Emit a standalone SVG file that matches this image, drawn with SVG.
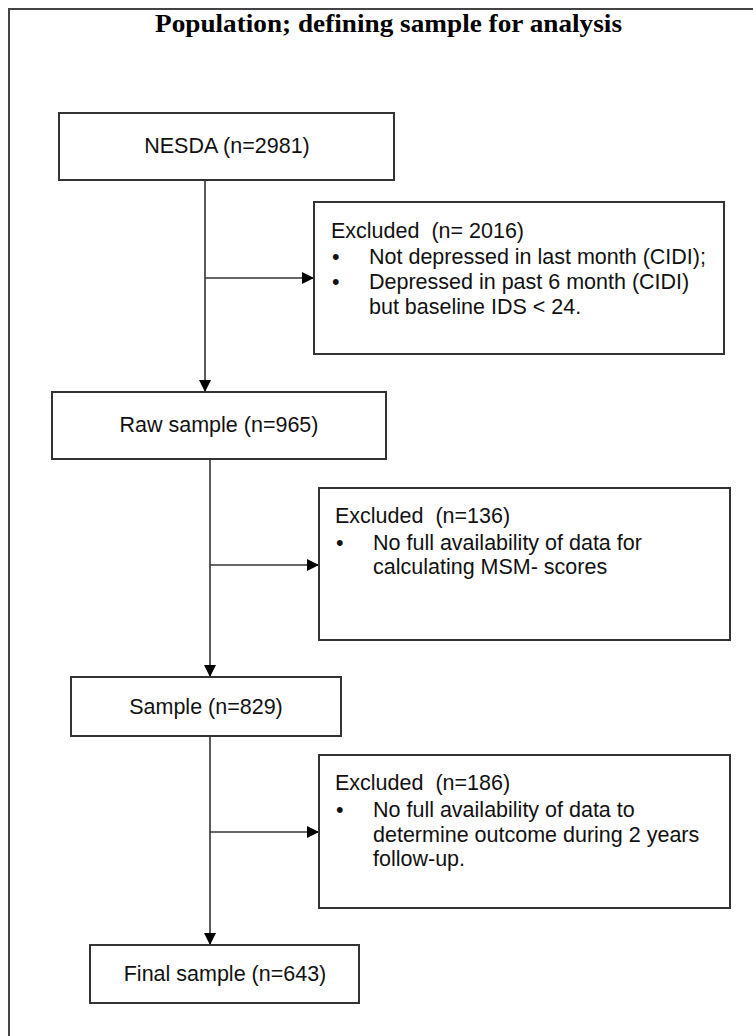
<svg xmlns="http://www.w3.org/2000/svg" width="753" height="1036" viewBox="0 0 753 1036">
<style>
.box{fill:#fff;stroke:#333;stroke-width:2}
.t{font-family:"Liberation Sans",Arial,sans-serif;font-size:21.5px;fill:#111}
.c{text-anchor:middle}
.ln{stroke:#333;stroke-width:1.6;fill:none}
.title{font-family:"Liberation Serif","Times New Roman",serif;font-weight:bold;font-size:26px;fill:#000;text-anchor:middle}
</style>
<defs>
<marker id="arr" viewBox="0 0 10 10" refX="10" refY="5" markerWidth="12" markerHeight="12" markerUnits="userSpaceOnUse" orient="auto">
<path d="M0,0 L10,5 L0,10 Z" fill="#000"/>
</marker>
</defs>
<rect x="9" y="9" width="780" height="1060" fill="#fff" stroke="#444" stroke-width="2"/>
<text class="title" x="388.5" y="32" textLength="467" lengthAdjust="spacingAndGlyphs">Population; defining sample for analysis</text>

<g id="connectors">
<line class="ln" x1="205" y1="180" x2="205" y2="392" marker-end="url(#arr)"/>
<line class="ln" x1="205" y1="278" x2="314" y2="278" marker-end="url(#arr)"/>
<line class="ln" x1="210" y1="450" x2="210" y2="677" marker-end="url(#arr)"/>
<line class="ln" x1="210" y1="565" x2="319" y2="565" marker-end="url(#arr)"/>
<line class="ln" x1="210" y1="736" x2="210" y2="945" marker-end="url(#arr)"/>
<line class="ln" x1="210" y1="832" x2="319" y2="832" marker-end="url(#arr)"/>
</g>

<g id="nesda">
<rect class="box" x="59" y="113" width="335" height="67"/>
<text class="t c" x="227" y="153">NESDA (n=2981)</text>
</g>

<g id="excluded1">
<rect class="box" x="314" y="202" width="410" height="152"/>
<text class="t" x="331" y="238" xml:space="preserve">Excluded  (n= 2016)</text>
<text class="t" x="332" y="263.5">•</text>
<text class="t" x="369" y="263.5">Not depressed in last month (CIDI);</text>
<text class="t" x="332" y="289">•</text>
<text class="t" x="369" y="289">Depressed in past 6 month (CIDI)</text>
<text class="t" x="369" y="314">but baseline IDS &lt; 24.</text>
</g>

<g id="raw">
<rect class="box" x="52" y="392" width="334" height="67"/>
<text class="t c" x="219" y="432">Raw sample (n=965)</text>
</g>

<g id="excluded2">
<rect class="box" x="319" y="488" width="411" height="152"/>
<text class="t" x="335" y="523" xml:space="preserve">Excluded  (n=136)</text>
<text class="t" x="336" y="550">•</text>
<text class="t" x="373" y="550">No full availability of data for</text>
<text class="t" x="373" y="574">calculating MSM- scores</text>
</g>

<g id="sample">
<rect class="box" x="71" y="677" width="270" height="59"/>
<text class="t c" x="206" y="714">Sample (n=829)</text>
</g>

<g id="excluded3">
<rect class="box" x="319" y="755" width="411" height="153"/>
<text class="t" x="335" y="790" xml:space="preserve">Excluded  (n=186)</text>
<text class="t" x="336" y="817">•</text>
<text class="t" x="373" y="817">No full availability of data to</text>
<text class="t" x="373" y="842">determine outcome during 2 years</text>
<text class="t" x="373" y="866">follow-up.</text>
</g>

<g id="final">
<rect class="box" x="90" y="945" width="269" height="58"/>
<text class="t c" x="225" y="981">Final sample (n=643)</text>
</g>
</svg>
